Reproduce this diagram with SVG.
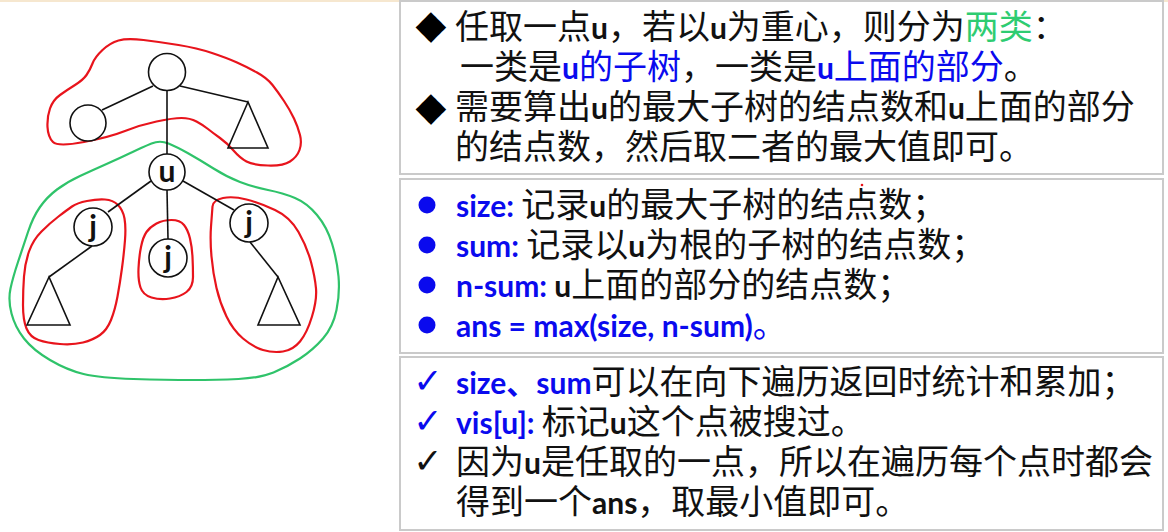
<svg xmlns="http://www.w3.org/2000/svg" width="1168" height="532" viewBox="0 0 1168 532">
<style>
.edge{stroke:#111;stroke-width:1.6;fill:none}
.nd{stroke:#111;stroke-width:1.6;fill:#fff}
.tri{stroke:#111;stroke-width:1.6;fill:none;stroke-linejoin:miter}
.red{stroke:#e8141c;stroke-width:2.2;fill:none}
.grn{stroke:#2fc36a;stroke-width:2.2;fill:none}
.lbl{font-family:Lato,"Liberation Sans",sans-serif;font-weight:bold;font-size:30px;fill:#111;text-anchor:middle}
.panel{fill:#fff;stroke:#cacaca;stroke-width:2}
.cj{font-family:"Noto Sans CJK SC",sans-serif;font-size:34px;fill:#111;white-space:pre}
.b{font-family:Lato,"Noto Sans CJK SC",sans-serif;font-weight:bold;font-size:30px}
.bl{fill:#0a0aee}
.gr{fill:#2ecc71}
.sym{font-family:"DejaVu Sans",sans-serif;text-anchor:middle}
</style>
<rect x="0" y="0" width="1168" height="532" fill="#fff"/>
<rect x="0" y="0" width="1168" height="2" fill="#f6e7cf"/>

<g id="regions">
<path class="red" d="M53,142 Q58,147 84,142 Q110,137 125,131 Q140,125 156.5,121.5 Q173,118 181.5,118 Q190,118 196.5,121.5 Q203,125 208,129 Q213,133 220,138 Q227,143 233.5,150.5 Q240,158 246.5,161.5 Q253,165 268,165.5 Q283,166 290,161.5 Q297,157 299.5,150 Q302,143 300,135 Q298,127 294,118.5 Q290,110 284,101 Q278,92 272.5,85 Q267,78 257,72.5 Q247,67 237,62.5 Q227,58 212,53 Q197,48 178.5,45 Q160,42 143.5,40 Q127,38 118.5,40.5 Q110,43 102.5,50 Q95,57 92.5,63.5 Q90,70 86.5,75 Q83,80 75,85 Q67,90 60,95 Q53,100 50,108.5 Q47,117 47.5,127 Q48,137 53,142 Z"/>
<path class="grn" d="M151.5,143.5 Q160,140 168.5,143.5 Q177,147 188.5,153.5 Q200,160 213.5,168.5 Q227,177 240,182 Q253,187 268,190 Q283,193 295,198 Q307,203 317,215 Q327,227 332,243.5 Q337,260 338.5,276.5 Q340,293 336.5,310 Q333,327 323,338.5 Q313,350 300,358.5 Q287,367 273.5,372.5 Q260,378 238.5,379 Q217,380 192,380 Q167,380 133.5,379 Q100,378 83.5,374 Q67,370 50,360 Q33,350 24,338.5 Q15,327 11.5,313.5 Q8,300 10.5,288.5 Q13,277 18,262 Q23,247 28,232 Q33,217 40,207 Q47,197 57,189.5 Q67,182 80,176 Q93,170 106.5,164 Q120,158 131.5,152.5 Q143,147 151.5,143.5 Z"/>
<path class="red" d="M72,206.5 Q77,203 87,201 Q97,199 105,199.5 Q113,200 118,205 Q123,210 124.5,218.5 Q126,227 125,240 Q124,253 122,268 Q120,283 117.5,296.5 Q115,310 111,320 Q107,330 100,335 Q93,340 83,342.5 Q73,345 60,344 Q47,343 38.5,340 Q30,337 26.5,328.5 Q23,320 23,305 Q23,290 24,276.5 Q25,263 29,251.5 Q33,240 41.5,231.5 Q50,223 58.5,216.5 Q67,210 72,206.5 Z"/>
<path class="red" d="M146.5,232 Q150,227 156.5,223.5 Q163,220 171.5,220 Q180,220 184,225 Q188,230 190,238.5 Q192,247 192.5,257 Q193,267 193,277 Q193,287 186.5,292 Q180,297 170,298.5 Q160,300 151.5,297.5 Q143,295 140.5,287.5 Q138,280 138.5,268.5 Q139,257 141,247 Q143,237 146.5,232 Z"/>
<path class="red" d="M212.5,206.5 Q213,200 223,198 Q233,196 246.5,199.5 Q260,203 275,210 Q290,217 298.5,232 Q307,247 311,262 Q315,277 316,288.5 Q317,300 312,316.5 Q307,333 300,341.5 Q293,350 283,351.5 Q273,353 263,350 Q253,347 243,338.5 Q233,330 226.5,316.5 Q220,303 216.5,288 Q213,273 211.5,256.5 Q210,240 211,226.5 Q212,213 212.5,206.5 Z"/>
</g>

<g id="connectors">
<line class="edge" x1="153" y1="86" x2="102" y2="110"/>
<line class="edge" x1="180" y1="86" x2="248" y2="102"/>
<line class="edge" x1="167" y1="90" x2="167" y2="154"/>
<line class="edge" x1="151" y1="181" x2="108" y2="212"/>
<line class="edge" x1="167" y1="190" x2="168" y2="239"/>
<line class="edge" x1="183" y1="181" x2="234" y2="210"/>
<line class="edge" x1="92" y1="246" x2="49" y2="277"/>
<line class="edge" x1="250" y1="242" x2="278" y2="277"/>
</g>

<g id="root"><circle class="nd" cx="167" cy="72" r="18.5"/></g>
<g id="leftLeaf"><circle class="nd" cx="88" cy="123" r="18"/></g>
<g id="topSubtree"><path class="tri" d="M248,102 L228,148 L268,148 Z"/></g>
<g id="u"><circle class="nd" cx="167" cy="172" r="18"/><text class="lbl" x="167" y="182">u</text></g>
<g id="j1"><circle class="nd" cx="93" cy="227" r="19"/><text class="lbl" x="93" y="237">j</text></g>
<g id="j2"><circle class="nd" cx="168" cy="258" r="19"/><text class="lbl" x="168" y="268">j</text></g>
<g id="j3"><circle class="nd" cx="249" cy="223" r="19"/><text class="lbl" x="249" y="233">j</text></g>
<g id="subtreeLeft"><path class="tri" d="M49,277 L27,325 L70,325 Z"/></g>
<g id="subtreeRight"><path class="tri" d="M278,277 L258,325 L300,325 Z"/></g>

<g id="panel1">
<rect class="panel" x="400" y="1" width="763" height="173"/>
<text class="sym" x="431" y="38" font-size="40" fill="#000">◆</text>
<text class="cj" x="455" y="39">任取一点<tspan class="b">u</tspan>，若以<tspan class="b">u</tspan>为重心，则分为<tspan class="gr">两类</tspan>：</text>
<text class="cj" x="460" y="79">一类是<tspan class="b bl">u</tspan><tspan class="bl">的子树</tspan>，一类是<tspan class="b bl">u</tspan><tspan class="bl">上面的部分</tspan>。</text>
<text class="sym" x="431" y="120" font-size="40" fill="#000">◆</text>
<text class="cj" x="455" y="119">需要算出<tspan class="b">u</tspan>的最大子树的结点数和<tspan class="b">u</tspan>上面的部分</text>
<text class="cj" x="455" y="159">的结点数，然后取二者的最大值即可。</text>
</g>

<g id="panel2">
<rect class="panel" x="400" y="179" width="763" height="174"/>
<circle cx="862" cy="185" r="1.3" fill="#e8141c"/>
<circle cx="427" cy="205" r="8.5" fill="#0a0aee"/>
<circle cx="427" cy="245" r="8.5" fill="#0a0aee"/>
<circle cx="427" cy="285" r="8.5" fill="#0a0aee"/>
<circle cx="427" cy="325" r="8.5" fill="#0a0aee"/>
<text class="cj" x="456" y="217"><tspan class="b bl">size: </tspan>记录<tspan class="b">u</tspan>的最大子树的结点数；</text>
<text class="cj" x="456" y="257"><tspan class="b bl">sum: </tspan>记录以<tspan class="b">u</tspan>为根的子树的结点数；</text>
<text class="cj" x="456" y="297"><tspan class="b bl">n-sum: </tspan><tspan class="b">u</tspan>上面的部分的结点数；</text>
<text class="cj" x="456" y="337"><tspan class="b bl">ans = max(size, n-sum)</tspan><tspan class="bl">。</tspan></text>
</g>

<g id="panel3">
<rect class="panel" x="400" y="357" width="763" height="173"/>
<text class="sym" x="428" y="393" font-size="35" fill="#0a0aee">✓</text>
<text class="sym" x="428" y="433" font-size="35" fill="#0a0aee">✓</text>
<text class="sym" x="428" y="473" font-size="35" fill="#111">✓</text>
<text class="cj" x="456" y="394"><tspan class="b bl">size、sum</tspan>可以在向下遍历返回时统计和累加；</text>
<text class="cj" x="456" y="434"><tspan class="b bl">vis[u]: </tspan>标记<tspan class="b">u</tspan>这个点被搜过。</text>
<text class="cj" x="456" y="474">因为<tspan class="b">u</tspan>是任取的一点，所以在遍历每个点时都会</text>
<text class="cj" x="456" y="514">得到一个<tspan class="b">ans</tspan>，取最小值即可。</text>
</g>
</svg>
